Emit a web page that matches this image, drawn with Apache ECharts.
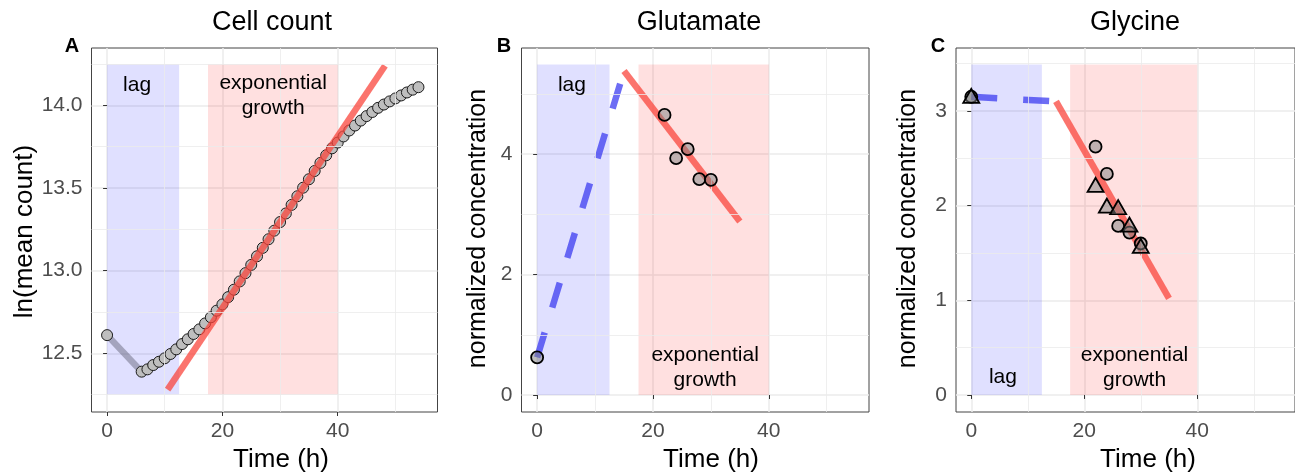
<!DOCTYPE html>
<html>
<head>
<meta charset="utf-8">
<script src="https://cdn.jsdelivr.net/npm/echarts@6/dist/echarts.min.js"></script>
<style>html,body{margin:0;padding:0;background:#fff}#chart{width:1295px;height:475px}</style>
</head>
<body>
<div id="chart"></div>
<script>
// data
var cellHours = [0, 6, 7, 8, 9, 10, 11, 12, 13, 14, 15, 16, 17, 18, 19, 20, 21, 22, 23, 24, 25,
  26, 27, 28, 29, 30, 31, 32, 33, 34, 35, 36, 37, 38, 39, 40, 41, 42, 43, 44, 45, 46, 47, 48,
  49, 50, 51, 52, 53, 54];
var cellLnCount = [12.61, 12.389, 12.403, 12.429, 12.449, 12.470, 12.496, 12.524, 12.556, 12.585,
  12.617, 12.645, 12.681, 12.718, 12.758, 12.796, 12.84, 12.885, 12.935, 12.985, 13.035, 13.087,
  13.138, 13.19, 13.242, 13.294, 13.346, 13.398, 13.45, 13.502, 13.553, 13.603, 13.652, 13.698,
  13.74, 13.775, 13.812, 13.848, 13.878, 13.908, 13.935, 13.96, 13.985, 14.005, 14.024, 14.042,
  14.06, 14.078, 14.095, 14.11];
var cellLagX = [0, 6], cellLagY = [12.61, 12.389];
var cellFitX = [10.5, 48.2], cellFitY = [12.28, 14.24];

var gluHours = [0, 22, 24, 26, 28, 30];
var gluConc = [0.625, 4.652, 3.934, 4.083, 3.585, 3.574];
var gluLagX = [0, 15], gluLagY = [0.625, 5.38];
var gluFitX = [15, 35], gluFitY = [5.38, 2.88];

var glyCircHours = [0, 22, 24, 26, 28, 30];
var glyCircConc = [3.15, 2.623, 2.335, 1.786, 1.715, 1.60];
var glyTriHours = [0, 22, 24, 26, 28, 30];
var glyTriConc = [3.16, 2.219, 2.0, 1.983, 1.80, 1.574];
var glyLagX = [0, 15], glyLagY = [3.15, 3.10];
var glyFitX = [15, 35], glyFitY = [3.10, 1.02];

var lagPhase = [0, 12.5];
var expPhase = [17.5, 40];
var phaseY = [[12.248, 14.25], [0, 5.49], [0, 3.49]];

var timeTicks = [0, 20, 40], timeMinor = [10, 30, 50];
var cellTicks = [12.5, 13, 13.5, 14], cellMinor = [12.25, 12.75, 13.25, 13.75, 14.25];
var gluTicks = [0, 2, 4], gluMinor = [1, 3, 5];
var glyTicks = [0, 1, 2, 3], glyMinor = [0.5, 1.5, 2.5, 3.5];

var titles = ['Cell count', 'Glutamate', 'Glycine'];
var tags = ['A', 'B', 'C'];
var yNames = ['ln(mean count)', 'normalized concentration', 'normalized concentration'];
// label positions [x, y, text]
var notes = [
  [[5.2, 14.12, 'lag'], [28.8, 14.06, 'exponential\ngrowth']],
  [[6.0, 5.15, 'lag'], [29.0, 0.45, 'exponential\ngrowth']],
  [[5.6, 0.19, 'lag'], [28.9, 0.29, 'exponential\ngrowth']]
];

function zip(a, b) { return a.map(function (v, i) { return [v, b[i]]; }); }

var FONT = '"Liberation Sans", Arial, Helvetica, sans-serif';
var panels = [
  {left: 91.5, width: 346, yMin: 12.145, yMax: 14.347, ticks: cellTicks, minor: cellMinor, dec: 1},
  {left: 521.5, width: 347.5, yMin: -0.282, yMax: 5.763, ticks: gluTicks, minor: gluMinor, dec: 0},
  {left: 956, width: 346, yMin: -0.18, yMax: 3.665, ticks: glyTicks, minor: glyMinor, dec: 0}
];

var grids = [], xAxes = [], yAxes = [], series = [];
panels.forEach(function (p, i) {
  grids.push({left: p.left, top: 48, width: p.width, height: 364, show: true,
    borderColor: '#444', borderWidth: 1, backgroundColor: 'transparent'});
  xAxes.push({type: 'value', gridIndex: i, min: -2.7, max: 57.3,
    axisLine: {show: false},
    axisTick: {show: true, length: 4, lineStyle: {color: '#333'}, customValues: timeTicks},
    axisLabel: {customValues: timeTicks, color: '#4D4D4D', fontSize: 21, margin: 9, fontFamily: FONT},
    splitLine: {show: true, lineStyle: {color: '#EBEBEB', width: 1.5}}});
  yAxes.push({type: 'value', gridIndex: i, min: p.yMin, max: p.yMax,
    axisLine: {show: false},
    axisTick: {show: true, length: 4, lineStyle: {color: '#333'}, customValues: p.ticks},
    axisLabel: {customValues: p.ticks, color: '#4D4D4D', fontSize: 21, margin: 9, fontFamily: FONT,
      formatter: function (v) { return v.toFixed(p.dec); }},
    splitLine: {show: true, lineStyle: {color: '#EBEBEB', width: 1.5}}});

  var minorLines = timeMinor.map(function (v) { return {xAxis: v}; })
    .concat(p.minor.map(function (v) { return {yAxis: v}; }));
  series.push({type: 'scatter', xAxisIndex: i, yAxisIndex: i, z: 0, silent: true,
    data: [[-100, -100]], symbolSize: 0,
    markLine: {silent: true, symbol: ['none', 'none'], label: {show: false}, animation: false,
      lineStyle: {color: '#EBEBEB', width: 0.8, type: 'solid'}, data: minorLines}});
  series.push({type: 'scatter', xAxisIndex: i, yAxisIndex: i, z: 1, silent: true,
    data: [[-100, -100]], symbolSize: 0,
    markArea: {silent: true, animation: false, data: [
      [{xAxis: lagPhase[0], yAxis: phaseY[i][0], itemStyle: {color: 'rgba(0,0,255,0.12)'}},
       {xAxis: lagPhase[1], yAxis: phaseY[i][1]}],
      [{xAxis: expPhase[0], yAxis: phaseY[i][0], itemStyle: {color: 'rgba(255,0,0,0.12)'}},
       {xAxis: expPhase[1], yAxis: phaseY[i][1]}]
    ]}});
  series.push({type: 'scatter', xAxisIndex: i, yAxisIndex: i, z: 8, silent: true,
    data: notes[i], symbolSize: 0, itemStyle: {color: '#000', opacity: 1},
    label: {show: true, position: 'inside', color: '#000', opacity: 1, fontSize: 21, lineHeight: 25,
      fontFamily: FONT, align: 'center', textBorderWidth: 0,
      formatter: function (q) { return q.value[2]; }}});
});

function seg(i, xs, ys, color, width, dash, z) {
  return {type: 'line', xAxisIndex: i, yAxisIndex: i, data: zip(xs, ys), showSymbol: false,
    symbol: 'none', z: z, silent: true,
    lineStyle: {color: color, width: width, type: dash || 'solid', cap: 'butt'}};
}
var RED = 'rgba(250,70,60,0.75)';
var BLUE = 'rgba(60,60,240,0.75)';
var openFill = 'rgba(128,128,128,0.5)';

// panel A
series.push(seg(0, cellLagX, cellLagY, 'rgba(90,90,110,0.45)', 6.5, null, 2));
series.push({type: 'scatter', xAxisIndex: 0, yAxisIndex: 0, z: 3, data: zip(cellHours, cellLnCount),
  symbolSize: 11, itemStyle: {color: '#BEBEBE', borderColor: '#1a1a1a', borderWidth: 1, opacity: 1}});
series.push(seg(0, cellFitX, cellFitY, RED, 6.5, null, 4));

// panel B
series.push(seg(1, gluLagX, gluLagY, BLUE, 6.5, [26, 26], 3));
series.push(seg(1, gluFitX, gluFitY, RED, 6.5, null, 3));
series.push({type: 'scatter', xAxisIndex: 1, yAxisIndex: 1, z: 5, data: zip(gluHours, gluConc),
  symbolSize: 12, itemStyle: {color: openFill, borderColor: '#000', borderWidth: 1.8, opacity: 1}});

// panel C
series.push(seg(2, glyLagX, glyLagY, BLUE, 6.5, [26, 26], 3));
series.push(seg(2, glyFitX, glyFitY, RED, 6.5, null, 3));
series.push({type: 'scatter', xAxisIndex: 2, yAxisIndex: 2, z: 5, data: zip(glyCircHours, glyCircConc),
  symbolSize: 12, itemStyle: {color: openFill, borderColor: '#000', borderWidth: 1.8, opacity: 1}});
series.push({type: 'scatter', xAxisIndex: 2, yAxisIndex: 2, z: 6, data: zip(glyTriHours, glyTriConc),
  symbol: 'triangle', symbolSize: [16, 14],
  itemStyle: {color: openFill, borderColor: '#000', borderWidth: 1.8, opacity: 1}});

var titleX = [272, 699, 1135];
var tagX = [72, 504, 938];
var timeX = [281, 711, 1148];
var yNameX = [25, 478, 908];
var yNameY = [231.5, 228.5, 228.5];
var yNameSize = [26, 25, 25];
var graphics = [];
for (var k = 0; k < 3; k++) {
  graphics.push({type: 'text', x: titleX[k], y: 23, silent: true,
    style: {text: titles[k], font: '27px ' + FONT, fill: '#000', textAlign: 'center', textVerticalAlign: 'middle'}});
  graphics.push({type: 'text', x: tagX[k], y: 46, silent: true,
    style: {text: tags[k], font: 'bold 20px ' + FONT, fill: '#000', textAlign: 'center', textVerticalAlign: 'middle'}});
  graphics.push({type: 'text', x: timeX[k], y: 459.5, silent: true,
    style: {text: 'Time (h)', font: '26px ' + FONT, fill: '#000', textAlign: 'center', textVerticalAlign: 'middle'}});
  graphics.push({type: 'text', x: yNameX[k], y: yNameY[k], rotation: Math.PI / 2, silent: true,
    style: {text: yNames[k], font: yNameSize[k] + 'px ' + FONT, fill: '#000', textAlign: 'center', textVerticalAlign: 'middle'}});
}

var chart = echarts.init(document.getElementById('chart'), null, {renderer: 'canvas'});
chart.setOption({
  animation: false,
  backgroundColor: '#fff',
  textStyle: {fontFamily: FONT},
  grid: grids,
  xAxis: xAxes,
  yAxis: yAxes,
  series: series,
  graphic: graphics
});
</script>
</body>
</html>
